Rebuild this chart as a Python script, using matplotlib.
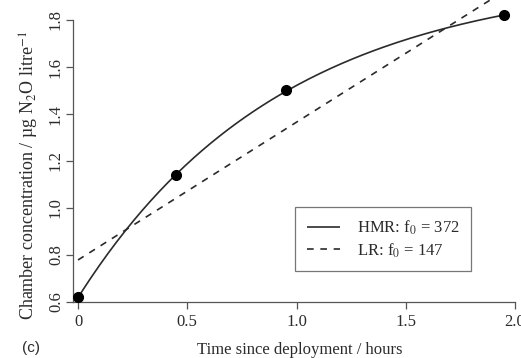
import numpy as np
import matplotlib
matplotlib.use("Agg")
import matplotlib.pyplot as plt

plt.rcParams["font.family"] = ["Liberation Serif", "DejaVu Serif"]
plt.rcParams["mathtext.fontset"] = "stix"

# chamber N2O measurements
time_h = np.array([0.0, 0.45, 0.95, 1.95])
conc = np.array([0.62, 1.14, 1.50, 1.82])

hmr_f0 = 372
lr_f0 = 147

x_ticks = [0, 0.5, 1.0, 1.5, 2.0]
x_labels = ["0", "0.5", "1.0", "1.5", "2.0"]
y_ticks = [0.6, 0.8, 1.0, 1.2, 1.4, 1.6, 1.8]
y_labels = ["0.6", "0.8", "1.0", "1.2", "1.4", "1.6", "1.8"]

ink = "#2b2b2b"


def fit_hmr(t, c):
    # C(t) = phi - b * exp(-k t); grid over k, least squares for phi and b
    best = None
    for k in np.linspace(0.05, 5.0, 2000):
        A = np.column_stack([np.ones_like(t), -np.exp(-k * t)])
        coef, res, _, _ = np.linalg.lstsq(A, c, rcond=None)
        sse = np.sum((A @ coef - c) ** 2)
        if best is None or sse < best[0]:
            best = (sse, k, coef)
    return best[1], best[2]


k, (phi, b) = fit_hmr(time_h, conc)
slope, icpt = np.polyfit(time_h, conc, 1)

W, H = 521, 358
fig = plt.figure(figsize=(W / 100, H / 100), dpi=100)
ax = fig.add_axes([73 / W, 56 / H, (515 - 73) / W, 302 / H])

tt = np.linspace(0, time_h[-1], 200)
ax.plot(tt, phi - b * np.exp(-k * tt), color=ink, lw=1.2, solid_capstyle="butt",
        label=f"HMR: f$_0$ = {hmr_f0}")
tl = np.linspace(0, 2.0, 50)
ax.plot(tl, icpt + slope * tl, color=ink, lw=1.2, linestyle=(0, (4, 4)),
        label=f"LR: f$_0$ = {lr_f0}")
ax.plot(time_h, conc, "o", color="black", ms=7, zorder=5)

ax.set_xlim(-0.023, 2.0)
ax.set_ylim(0.6, 0.6 + 302 / 235)

for s in ["top", "right"]:
    ax.spines[s].set_visible(False)
for s in ["left", "bottom"]:
    ax.spines[s].set_color("#555555")
    ax.spines[s].set_linewidth(0.9)
ax.spines["left"].set_bounds(0.6, 1.8)

ax.set_xticks(x_ticks)
ax.set_xticklabels(x_labels)
ax.set_yticks(y_ticks)
ax.set_yticklabels(y_labels, rotation=90, va="center")
ax.tick_params(axis="both", direction="out", length=5, width=0.9, color="#555555",
               labelsize=12, labelcolor=ink, pad=3.5)
ax.tick_params(axis="y", pad=1.5)

leg = ax.legend(loc="upper left", bbox_to_anchor=(295 / W, 1 - 207 / H),
                bbox_transform=fig.transFigure, frameon=True, fancybox=False,
                edgecolor="#555555", fontsize=12, handlelength=2.0,
                handletextpad=1.0, borderpad=0.7, labelspacing=0.25,
                borderaxespad=0)
leg.get_frame().set_linewidth(0.9)
for txt in leg.get_texts():
    txt.set_color(ink)

fig.text(300 / W, 1 - 350 / H, "Time since deployment / hours", ha="center",
         va="center", fontsize=12, color=ink)
fig.text(29 / W, 1 - 175 / H, "Chamber concentration / µg N$_2$O litre$^{-1}$",
         rotation=90, ha="center", va="center", fontsize=13, color=ink)
fig.text(22 / W, 1 - 348 / H, "(c)", ha="left", va="center", fontsize=11,
         color=ink, family=["Liberation Sans", "DejaVu Sans"])

fig.savefig("out.png", dpi=100)
